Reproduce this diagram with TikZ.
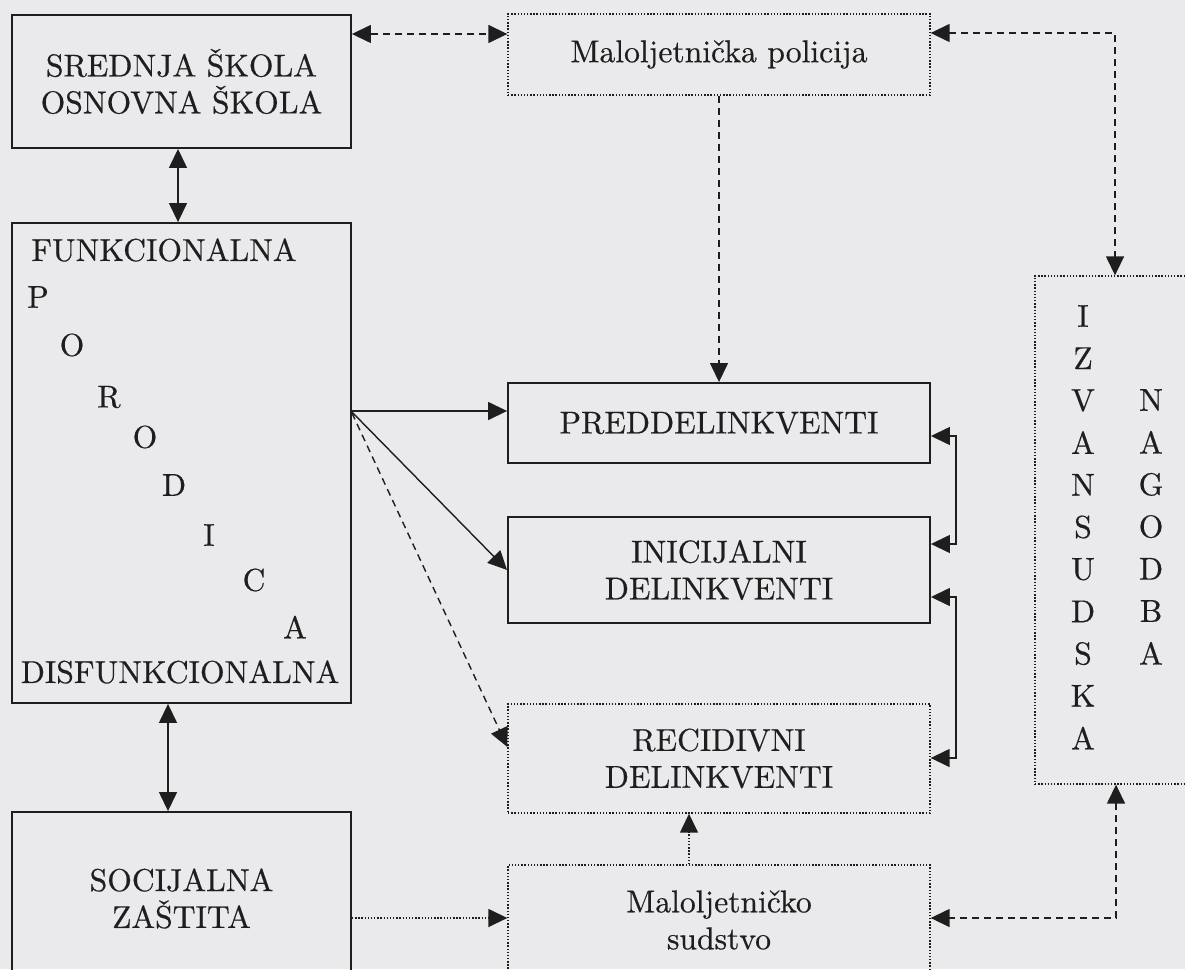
\documentclass[tikz,border=0pt]{standalone}
\usepackage{fontspec}
\setmainfont{lmroman10-regular.otf}[FakeBold=0.5]
\usetikzlibrary{arrows.meta,calc}
\definecolor{paper}{RGB}{234,234,236}
\definecolor{ink}{RGB}{30,30,30}

\begin{document}
\begin{tikzpicture}[x=0.02cm,y=-0.02cm,
  font=\fontsize{18pt}{21pt}\selectfont,
  >={Triangle[length=0.38cm,width=0.36cm]},
  box/.style={draw=ink,line width=1.1pt,minimum width=6.78cm,inner sep=0pt,align=center,text=ink},
  midbox/.style={box,minimum width=8.44cm},
  dotbox/.style={line width=0.8pt,densely dotted},
  lbl/.style={inner sep=0pt,text=ink},
  link/.style={draw=ink,line width=0.8pt},
  dashlink/.style={link,dash pattern=on 0.14cm off 0.1cm},
  dotlink/.style={link,densely dotted}]
\fill [paper] (0,0) rectangle (1185,969);
\useasboundingbox (0,0) rectangle (1185,969);

\node [box,minimum height=2.66cm] (skola) at (181.5,81.5) {SREDNJA ŠKOLA\\OSNOVNA ŠKOLA};
\node [box,minimum height=9.6cm] (porodica) at (181.5,463) {};
\node [box,minimum height=3.46cm] (socijalna) at (181.5,898.5) {SOCIJALNA\\ZAŠTITA};

\node [midbox,dotbox,minimum height=1.62cm] (policija) at (719,54.5) {Maloljetnička policija};
\node [midbox,minimum height=1.6cm] (predd) at (719,423) {PREDDELINKVENTI};
\node [midbox,minimum height=2.12cm] (inic) at (719,570) {INICIJALNI\\DELINKVENTI};
\node [midbox,dotbox,minimum height=2.18cm] (recid) at (719,758.5) {RECIDIVNI\\DELINKVENTI};
\node [midbox,dotbox,minimum height=2.2cm] (sudstvo) at (719,920) {Maloljetničko\\sudstvo};
\node [box,dotbox,minimum width=3.6cm,minimum height=10.16cm] (izvan) at (1125,530) {};

\node [lbl,anchor=west] (funk) at (31,250) {FUNKCIONALNA};
\foreach \l/\x/\y [count=\i] in {P/38/297,O/72/345,R/109/397,O/145/437,D/174/485,I/209/535,C/254/580,A/295/627}
  \node [lbl] (po\i) at (\x,\y) {\l};
\node [lbl] (disf) at (180,672) {DISFUNKCIONALNA};

\foreach \l [count=\i] in {I,Z,V,A,N,S,U,D,S,K,A}
  \node [lbl] (iz\i) at (1083,{316+42.2*(\i-1)}) {\l};
\foreach \l [count=\i] in {N,A,G,O,D,B,A}
  \node [lbl] (na\i) at (1151,{400+42.2*(\i-1)}) {\l};

\draw [dashlink,<->] (skola.east |- 0,34) -- (policija.west |- 0,34);
\draw [link,<->] (skola.south -| 178,0) -- (porodica.north -| 178,0);
\draw [link,<->] (porodica.south -| 168,0) -- (socijalna.north -| 168,0);
\draw [dashlink,->] (policija.south) -- (predd.north);
\draw [dashlink,<->] (policija.east |- 0,33) -| (izvan.north -| 1115,0);
\draw [link,->] (porodica.east |- 0,411) -- (predd.west |- 0,411);
\draw [link,->] (porodica.east |- 0,412) -- (inic.west |- 0,570);
\draw [dashlink,->] (porodica.east |- 0,413) -- (recid.west |- 0,747);
\draw [link,<->] (predd.east |- 0,436) -- ++(25,0) |- (inic.east |- 0,544);
\draw [link,<->] (inic.east |- 0,597) -- ++(25,0) |- (recid.east |- 0,758);
\draw [dashlink,<->] (izvan.south -| 1116,0) |- (sudstvo.east |- 0,918);
\draw [dotlink,->] (sudstvo.north -| 689,0) -- (recid.south -| 689,0);
\draw [dotlink,->] (socijalna.east |- 0,918) -- (sudstvo.west |- 0,918);
\end{tikzpicture}
\end{document}
